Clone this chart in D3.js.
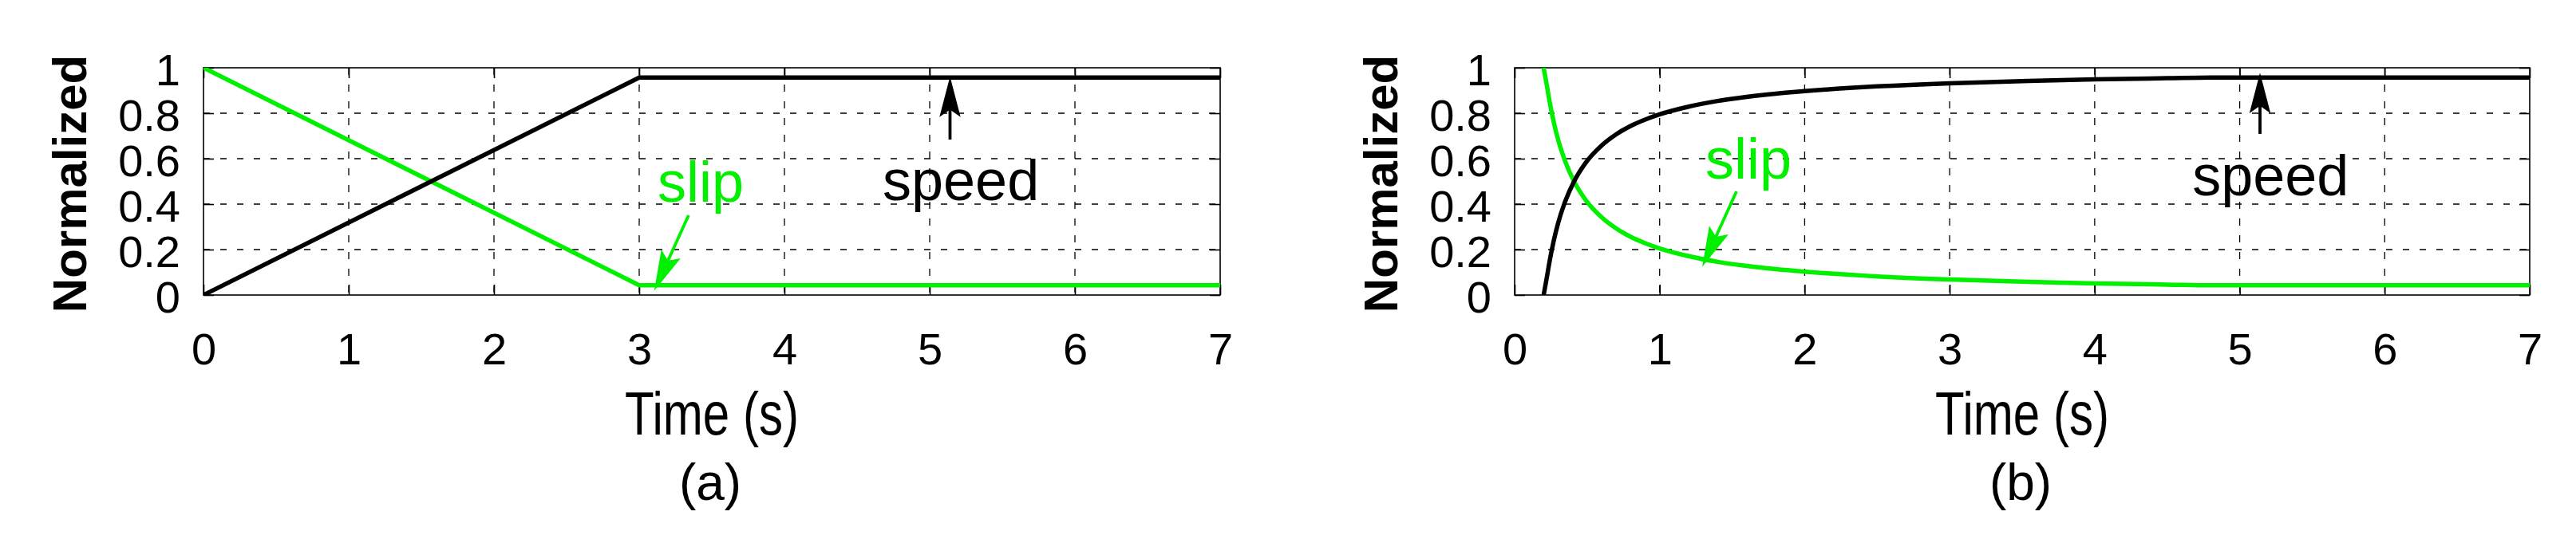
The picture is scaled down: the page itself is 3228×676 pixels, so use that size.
<!DOCTYPE html>
<html>
<head>
<meta charset="utf-8">
<script src="https://cdn.jsdelivr.net/npm/d3@7"></script>
<style>
body{margin:0;background:#fff;}
text{font-family:'Liberation Sans',Arial,Helvetica,sans-serif;fill:#000;}
</style>
</head>
<body>
<div id="chart"></div>
<script>
'use strict';

var xTicks = [0,1,2,3,4,5,6,7];
var yTicks = [0,0.2,0.4,0.6,0.8,1];
var yTickLabels = ['0','0.2','0.4','0.6','0.8','1'];

// (a) ramped start
var timeA = [0,3,7];
var speedA = [0,0.957,0.957];
var slipA = [1,0.043,0.043];

// (b) direct start
var timeB = [0.2,0.22,0.24,0.27,0.3,0.35,0.41,0.49,0.6,0.7,0.8,0.9,1.0,1.2,1.4,1.6,1.8,2.0,2.5,3.0,3.5,4.0,4.5,4.8,7];
var speedB = [0,0.07,0.145,0.24,0.317,0.414,0.5,0.582,0.658,0.707,0.744,0.772,0.795,0.829,0.854,0.872,0.886,0.897,0.918,0.932,0.941,0.949,0.954,0.957,0.957];
var slipB = [1,0.93,0.855,0.76,0.683,0.586,0.5,0.418,0.342,0.293,0.256,0.228,0.205,0.171,0.146,0.128,0.114,0.103,0.082,0.068,0.059,0.051,0.046,0.043,0.043];

var GREEN = '#00f000';

var panels = [
	{left:255, right:1529, time:timeA, speed:speedA, slip:slipA, caption:'(a)',
	 slipText:[3.126,0.41], speedText:[4.676,0.4175],
	 slipArrow:[[3.34,0.351],[3.11,0.028]], speedArrow:[[5.14,0.684],[5.14,0.951]]},
	{left:1898, right:3170, time:timeB, speed:speedB, slip:slipB, caption:'(b)',
	 slipText:[1.315,0.512], speedText:[4.673,0.4386],
	 slipArrow:[[1.53,0.456],[1.30,0.133]], speedArrow:[[5.14,0.709],[5.14,0.968]]}
];

var plotTop = 85, plotBottom = 370;

var svg = d3.select('#chart').append('svg')
	.attr('width',3228)
	.attr('height',676)
	.style('background','#fff');

panels.forEach(function(p, k){
	var x = d3.scaleLinear().domain([0,7]).range([p.left,p.right]);
	var y = d3.scaleLinear().domain([0,1]).range([plotBottom,plotTop]);
	var g = svg.append('g');
	var w = p.right - p.left, h = plotBottom - plotTop;

	g.append('clipPath').attr('id','clip'+k)
		.append('rect').attr('x',p.left).attr('y',plotTop).attr('width',w).attr('height',h);

	//Grid
	g.selectAll('.vgrid').data(xTicks.slice(1,-1)).enter().append('line')
		.attr('x1',function(d){return x(d);}).attr('x2',function(d){return x(d);})
		.attr('y1',plotTop).attr('y2',plotBottom)
		.attr('stroke','#000').attr('stroke-width',1.3).attr('stroke-dasharray','9,12');
	g.selectAll('.hgrid').data(yTicks.slice(1,-1)).enter().append('line')
		.attr('y1',function(d){return y(d);}).attr('y2',function(d){return y(d);})
		.attr('x1',p.left).attr('x2',p.right)
		.attr('stroke','#000').attr('stroke-width',1.3).attr('stroke-dasharray','8,13');

	//Axes, ticks pointing inward
	var ax = g.append('g').attr('transform','translate(0,'+plotBottom+')')
		.call(d3.axisBottom(x).tickValues(xTicks).tickSize(-13).tickPadding(47).tickFormat(d3.format('d')));
	var ay = g.append('g').attr('transform','translate('+p.left+',0)')
		.call(d3.axisLeft(y).tickValues(yTicks).tickSize(-13).tickPadding(29)
			.tickFormat(function(d,i){return yTickLabels[i];}));
	g.append('g').attr('transform','translate(0,'+plotTop+')')
		.call(d3.axisTop(x).tickValues(xTicks).tickSize(-13).tickFormat(''));
	g.append('g').attr('transform','translate('+p.right+',0)')
		.call(d3.axisRight(y).tickValues(yTicks).tickSize(-13).tickFormat(''));
	g.selectAll('.domain').remove();
	g.selectAll('.tick line').attr('stroke','#000').attr('stroke-width',1.6);
	ax.selectAll('text').style('font-size','56px').attr('fill','#000');
	ay.selectAll('text').style('font-size','56px').attr('fill','#000').attr('dy','0.39em');

	g.append('rect').attr('x',p.left).attr('y',plotTop).attr('width',w).attr('height',h)
		.attr('fill','none').attr('stroke','#000').attr('stroke-width',1.6);

	//Curves
	var line = d3.line()
		.x(function(d){return x(d[0]);})
		.y(function(d){return y(d[1]);})
		.curve(p.time.length > 3 ? d3.curveMonotoneX : d3.curveLinear);
	var plot = g.append('g').attr('clip-path','url(#clip'+k+')');
	plot.append('path').datum(d3.zip(p.time,p.slip))
		.attr('d',line).attr('fill','none').attr('stroke',GREEN).attr('stroke-width',5.5);
	plot.append('path').datum(d3.zip(p.time,p.speed))
		.attr('d',line).attr('fill','none').attr('stroke','#000').attr('stroke-width',5.5);

	//Annotations
	function arrow(a, color){
		var x0 = x(a[0][0]), y0 = y(a[0][1]), x1 = x(a[1][0]), y1 = y(a[1][1]);
		var dx = x1-x0, dy = y1-y0, len = Math.sqrt(dx*dx+dy*dy);
		var ux = dx/len, uy = dy/len, nx = -uy, ny = ux;
		var hl = 46, hw = 12;
		var bx = x1-ux*hl, by = y1-uy*hl;
		var nbx = x1-ux*hl*0.82, nby = y1-uy*hl*0.82;
		g.append('line').attr('x1',x0).attr('y1',y0).attr('x2',nbx).attr('y2',nby)
			.attr('stroke',color).attr('stroke-width',3.8);
		g.append('path')
			.attr('d','M'+x1+','+y1+'L'+(bx+nx*hw)+','+(by+ny*hw)+'L'+nbx+','+nby+'L'+(bx-nx*hw)+','+(by-ny*hw)+'Z')
			.attr('fill',color).attr('stroke',color).attr('stroke-width',1.5);
	}
	arrow(p.slipArrow, GREEN);
	arrow(p.speedArrow, '#000');

	g.append('text').attr('x',x(p.slipText[0])).attr('y',y(p.slipText[1]))
		.style('font-size','72px').style('fill',GREEN).text('slip');
	g.append('text').attr('x',x(p.speedText[0])).attr('y',y(p.speedText[1]))
		.style('font-size','72px').text('speed');

	//Labels
	var cx = (p.left+p.right)/2;
	g.append('text')
		.attr('transform','translate('+(p.left-147)+','+((plotTop+plotBottom)/2+3)+') rotate(-90)')
		.attr('text-anchor','middle').style('font-size','60px').style('font-weight','bold')
		.text('Normalized');
	g.append('text')
		.attr('transform','translate('+cx+',545) scale(0.79,1)')
		.attr('text-anchor','middle').style('font-size','76px')
		.text('Time (s)');
	g.append('text').attr('x',cx-2).attr('y',627)
		.attr('text-anchor','middle').style('font-size','64px')
		.text(p.caption);
});
</script>
</body>
</html>
